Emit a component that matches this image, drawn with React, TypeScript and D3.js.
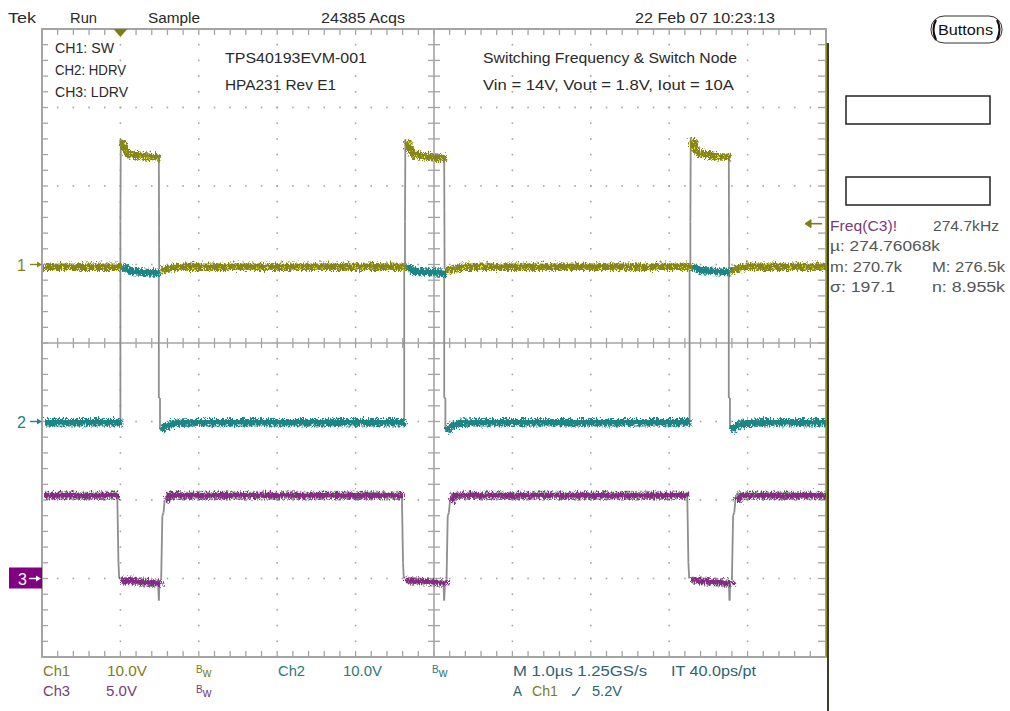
import React from "react";
import * as d3 from "d3";

const W = 1010;
const H = 711;
const FONT = "'Liberation Sans Narrow', 'Liberation Sans', Arial, sans-serif";

// traces: [time in µs from left graticule edge, volts]
const ch1Trace: [number, number][] = [
  [0, -0.1], [1.0, -0.1], [1.0, 5.5], [1.005, 16.0], [1.03, 15.0], [1.08, 14.3], [1.25, 14.0], [1.49, 13.8],
  [1.495, -0.6], [1.55, -0.4], [1.7, -0.1], [4.63, -0.1], [4.63, 5.5], [4.635, 16.0], [4.665, 14.9],
  [4.72, 14.2], [4.9, 13.9], [5.13, 13.7], [5.135, -0.6], [5.2, -0.4], [5.35, -0.1], [8.27, -0.1],
  [8.27, 5.5], [8.275, 16.2], [8.305, 15.0], [8.36, 14.4], [8.55, 14.0], [8.76, 13.9], [8.765, -0.6],
  [8.83, -0.4], [8.95, -0.1], [10.05, -0.1],
];
const ch2Trace: [number, number][] = [
  [0, 0.1], [1.0, 0.1], [1.0, 20.2], [1.005, 20.0], [1.1, 19.4], [1.49, 19.1], [1.49, 3.0], [1.505, 3.0],
  [1.505, -1.0], [1.54, -0.5], [1.65, 0.0], [1.9, 0.1], [4.62, 0.1], [4.62, 20.2], [4.625, 20.0],
  [4.72, 19.4], [5.13, 19.1], [5.13, 3.0], [5.145, 3.0], [5.145, -1.0], [5.18, -0.5], [5.29, 0.0],
  [5.5, 0.1], [8.26, 0.1], [8.26, 20.2], [8.265, 20.0], [8.36, 19.5], [8.76, 19.2], [8.76, 3.0],
  [8.775, 3.0], [8.775, -1.0], [8.81, -0.5], [8.92, 0.0], [9.2, 0.1], [10.05, 0.1],
];
const ch3Trace: [number, number][] = [
  [0, 5.4], [0.96, 5.4], [0.975, 1.0], [0.985, 0.0], [1.2, -0.1], [1.48, -0.2], [1.49, -1.4], [1.5, -0.2],
  [1.52, -0.1], [1.535, 4.0], [1.55, 4.2], [1.565, 5.0], [1.6, 5.4], [4.59, 5.4], [4.605, 1.0],
  [4.615, 0.0], [4.9, -0.1], [5.12, -0.2], [5.13, -1.4], [5.14, -0.2], [5.16, -0.1], [5.175, 4.0],
  [5.19, 4.2], [5.205, 5.0], [5.24, 5.4], [8.23, 5.4], [8.245, 1.0], [8.255, 0.0], [8.5, -0.1],
  [8.76, -0.2], [8.77, -1.4], [8.78, -0.2], [8.8, -0.1], [8.815, 4.0], [8.83, 4.2], [8.845, 5.0],
  [8.88, 5.4], [10.05, 5.4],
];

const channelLabels = ["1", "2", "3"];
const channelOffsets = [1, -1, -3]; // divisions from centre
const channelVoltsPerDiv = [10, 10, 5];
const triggerTime = 1.0;
const triggerLevel = 5.2;

const headerLabels = ["Tek", "Run", "Sample", "24385 Acqs", "22 Feb 07 10:23:13"];
const noteLines = ["CH1: SW", "CH2: HDRV", "CH3: LDRV"];
const boardLines = ["TPS40193EVM-001", "HPA231 Rev E1"];
const testLines = ["Switching Frequency & Switch Node", "Vin = 14V, Vout = 1.8V, Iout = 10A"];
const measLeft = ["µ: 274.76068k", "m: 270.7k", "σ: 197.1"];
const measRight = ["", "M: 276.5k", "n: 8.955k"];
const measName = "Freq(C3)!";
const measValue = "274.7kHz";

const X0 = 42, X1 = 826, Y0 = 29, Y1 = 657;
const x = d3.scaleLinear().domain([0, 10]).range([X0, X1]);
const yDiv = d3.scaleLinear().domain([-4, 4]).range([Y1, Y0]);

const GRID = "#a4a4a4";
const OLIVE = "#85851a";
const TEAL = "#1f8585";
const PURPLE = "#862a86";

function Txt({ x: tx, y: ty, w, fill = "#2a2a2a", size = 14, children }: any) {
  return (
    <text x={tx} y={ty} fontSize={size} fill={fill} fontFamily={FONT}
      textLength={w} lengthAdjust="spacingAndGlyphs">{children}</text>
  );
}

function Bw({ x: bx, y: by, fill }: any) {
  return (
    <text x={bx} y={by} fill={fill} fontFamily={FONT}>
      <tspan fontSize={10} dy={-3}>B</tspan>
      <tspan fontSize={12} dy={4}>w</tspan>
    </text>
  );
}

// split a trace into flat runs (coloured, noisy) and fast edges (grey)
function splitTrace(pts: [number, number][]) {
  const runs: [number, number][][] = [];
  const edges: [number, number][][] = [];
  let cur: [number, number][] = [pts[0]];
  for (let i = 1; i < pts.length; i++) {
    const a = pts[i - 1], b = pts[i];
    if (b[0] - a[0] < 0.02) {
      edges.push([a, b]);
      if (cur.length > 1) runs.push(cur);
      cur = [b];
    } else {
      cur.push(b);
    }
  }
  if (cur.length > 1) runs.push(cur);
  return { runs, edges };
}

function Trace({ data, ch, color, width, under, specks }: any) {
  const toY = (v: number) => yDiv(channelOffsets[ch] + v / channelVoltsPerDiv[ch]);
  const line = d3.line<[number, number]>().x(d => x(d[0])).y(d => toY(d[1]));
  const { runs, edges } = splitTrace(data);
  return (
    <g>
      {edges.map((e, i) => (
        <path key={"e" + i} d={line(e) || ""} stroke="#8e8e8e" strokeWidth={1.8} fill="none" />
      ))}
      {under && runs.map((r, i) => (
        <path key={"u" + i} d={line(r) || ""} stroke={under} strokeWidth={width + 2.5} fill="none" filter="url(#noise)" />
      ))}
      {runs.map((r, i) => (
        <path key={"r" + i} d={line(r) || ""} stroke={color} strokeWidth={width} fill="none" filter="url(#noise)" />
      ))}
      {specks && runs.map((r, i) => (
        <path key={"s" + i} d={line(r) || ""} stroke={specks} strokeWidth={2.4} strokeDasharray="2 6"
          fill="none" filter="url(#noise2)" />
      ))}
    </g>
  );
}

export default function App() {
  const minorX = d3.range(0, 51).map(i => i * 0.2);
  const minorY = d3.range(0, 41).map(i => -4 + i * 0.2);
  const majorX = d3.range(1, 10).filter(i => i !== 5);
  const majorY = d3.range(-3, 4).filter(j => j !== 0);
  const xc = x(5), yc = yDiv(0);
  const trigY = yDiv(channelOffsets[0] + triggerLevel / channelVoltsPerDiv[0]);
  const trigX = x(triggerTime);
  const markerY = channelOffsets.map(o => yDiv(o));

  return (
    <svg width={W} height={H} style={{ position: "absolute", left: 0, top: 0, background: "#fff" }}>
      <defs>
        <filter id="noise" filterUnits="userSpaceOnUse" x={0} y={0} width={W} height={H}>
          <feTurbulence type="turbulence" baseFrequency="0.6 0.3" numOctaves={2} seed={4} result="t" />
          <feDisplacementMap in="SourceGraphic" in2="t" scale={7} xChannelSelector="R" yChannelSelector="G" />
        </filter>
        <filter id="noise2" filterUnits="userSpaceOnUse" x={0} y={0} width={W} height={H}>
          <feTurbulence type="turbulence" baseFrequency="0.5 0.4" numOctaves={1} seed={9} result="t" />
          <feDisplacementMap in="SourceGraphic" in2="t" scale={9} xChannelSelector="R" yChannelSelector="G" />
        </filter>
        <clipPath id="plot"><rect x={X0} y={Y0} width={X1 - X0 + 3} height={Y1 - Y0} /></clipPath>
      </defs>

      {/* header */}
      <Txt x={8} y={23} w={28}>{headerLabels[0]}</Txt>
      <Txt x={70} y={23} w={27}>{headerLabels[1]}</Txt>
      <Txt x={148} y={23} w={52}>{headerLabels[2]}</Txt>
      <Txt x={321} y={23} w={84}>{headerLabels[3]}</Txt>
      <Txt x={635} y={23} w={140}>{headerLabels[4]}</Txt>

      {/* grid dots */}
      <g fill={GRID}>
        {majorX.flatMap(mx => minorY.slice(1, -1).map((my, i) => (
          <rect key={`dx${mx}-${i}`} x={x(mx) - 0.8} y={yDiv(my) - 0.8} width={1.6} height={1.6} />
        )))}
        {majorY.flatMap(my => minorX.slice(1, -1).map((mx, i) => (
          <rect key={`dy${my}-${i}`} x={x(mx) - 0.8} y={yDiv(my) - 0.8} width={1.6} height={1.6} />
        )))}
      </g>

      {/* border ticks and crosshair */}
      <g stroke={GRID} strokeWidth={1.3}>
        {minorX.slice(1, -1).map((mx, i) => (
          <g key={"tx" + i}>
            <line x1={x(mx)} x2={x(mx)} y1={Y0} y2={Y0 + 6} />
            <line x1={x(mx)} x2={x(mx)} y1={Y1 - 6} y2={Y1} />
            <line x1={x(mx)} x2={x(mx)} y1={yc - 5} y2={yc + 5} />
          </g>
        ))}
        {minorY.slice(1, -1).map((my, i) => (
          <g key={"ty" + i}>
            <line x1={X0} x2={X0 + 6} y1={yDiv(my)} y2={yDiv(my)} />
            <line x1={X1 - 8} x2={X1} y1={yDiv(my)} y2={yDiv(my)} />
            <line x1={xc - 6} x2={xc + 6} y1={yDiv(my)} y2={yDiv(my)} />
          </g>
        ))}
        <line x1={xc} x2={xc} y1={Y0} y2={Y1} strokeWidth={1.6} />
        <line x1={X0} x2={X1} y1={yc} y2={yc} strokeWidth={1.6} />
        <rect x={X0} y={Y0} width={X1 - X0} height={Y1 - Y0} fill="none" strokeWidth={2} />
      </g>

      {/* annotations */}
      {noteLines.map((s, i) => (
        <Txt key={s} x={55} y={53 + i * 22} w={[59, 71, 73][i]}>{s}</Txt>
      ))}
      <Txt x={225} y={63} w={142}>{boardLines[0]}</Txt>
      <Txt x={225} y={90} w={111}>{boardLines[1]}</Txt>
      <Txt x={483} y={63} w={254}>{testLines[0]}</Txt>
      <Txt x={483} y={90} w={251}>{testLines[1]}</Txt>

      {/* traces */}
      <g clipPath="url(#plot)">
        <Trace data={ch3Trace} ch={2} color={PURPLE} width={5.5} under="#9a9a9a" />
        <Trace data={ch2Trace} ch={1} color={TEAL} width={7.5} />
        <Trace data={ch1Trace} ch={0} color={OLIVE} width={7.5} specks="#ecec14" />
      </g>

      {/* trigger position marker */}
      <path d={`M${trigX - 7},${Y0} L${trigX + 7},${Y0} L${trigX},${Y0 + 8} Z`} fill="#7d7d10" />

      {/* right screen edge */}
      <line x1={828} x2={828} y1={43} y2={H} stroke="#3c3c28" strokeWidth={2} />
      <line x1={826.5} x2={826.5} y1={43} y2={Y1} stroke="#8a8a1a" strokeWidth={1} />

      {/* trigger level arrow */}
      <g stroke="#7d7d10" fill="#7d7d10">
        <line x1={806} x2={822} y1={trigY} y2={trigY} strokeWidth={1.6} />
        <path d={`M${805},${trigY} L${811},${trigY - 4} L${811},${trigY + 4} Z`} />
      </g>

      {/* channel ground markers */}
      {[0, 1].map(i => (
        <g key={"m" + i} fill={i === 0 ? OLIVE : TEAL} stroke={i === 0 ? OLIVE : TEAL}>
          <text x={17} y={markerY[i] + 6} fontSize={16} stroke="none" fontFamily={FONT}>{channelLabels[i]}</text>
          <line x1={30} x2={40} y1={markerY[i]} y2={markerY[i]} strokeWidth={1.4} />
          <path d={`M42,${markerY[i]} L37,${markerY[i] - 3} L37,${markerY[i] + 3} Z`} stroke="none" />
        </g>
      ))}
      <rect x={9} y={markerY[2] - 11} width={33} height={21} fill="#800080" />
      <text x={18} y={markerY[2] + 6} fontSize={16} fill="#fff" fontFamily={FONT}>{channelLabels[2]}</text>
      <line x1={29} x2={38} y1={markerY[2]} y2={markerY[2]} stroke="#fff" strokeWidth={1.4} />
      <path d={`M41,${markerY[2]} L36,${markerY[2] - 3} L36,${markerY[2] + 3} Z`} fill="#fff" />

      {/* right panel */}
      <rect x={931} y={16} width={71} height={27} rx={13} fill="none" stroke="#333" strokeWidth={1} />
      <path d="M936,20 Q931,29 936,40" fill="none" stroke="#111" strokeWidth={2.2} />
      <path d="M997,20 Q1002,29 997,40" fill="none" stroke="#111" strokeWidth={2.2} />
      <Txt x={938} y={35} w={55} fill="#111">Buttons</Txt>
      <rect x={846} y={96} width={144} height={28} fill="none" stroke="#222" strokeWidth={1.5} />
      <rect x={846} y={177} width={144} height={28} fill="none" stroke="#222" strokeWidth={1.5} />
      <Txt x={830} y={231} w={67} fill="#7a3a7a">{measName}</Txt>
      <Txt x={933} y={231} w={66} fill="#555">{measValue}</Txt>
      {measLeft.map((s, i) => (
        <Txt key={s} x={830} y={251 + i * 20.5} w={[110, 72, 65][i]} fill="#555">{s}</Txt>
      ))}
      {measRight.map((s, i) => s ? (
        <Txt key={s} x={932} y={251 + i * 20.5} w={73} fill="#555">{s}</Txt>
      ) : null)}

      {/* bottom readout */}
      <Txt x={43} y={676} w={27} fill="#7d7d18">Ch1</Txt>
      <Txt x={107} y={676} w={40} fill="#7d7d18">10.0V</Txt>
      <Bw x={196} y={676} fill="#7d7d18" />
      <Txt x={278} y={676} w={27} fill="#2a7a7a">Ch2</Txt>
      <Txt x={343} y={676} w={39} fill="#2a7a7a">10.0V</Txt>
      <Bw x={432} y={676} fill="#2a7a7a" />
      <Txt x={513} y={676} w={134} fill="#2e6470">M 1.0µs 1.25GS/s</Txt>
      <Txt x={671} y={676} w={85} fill="#2e6470">IT 40.0ps/pt</Txt>
      <Txt x={43} y={696} w={27} fill="#7a3a7a">Ch3</Txt>
      <Txt x={106} y={696} w={31} fill="#7a3a7a">5.0V</Txt>
      <Bw x={196} y={696} fill="#7a3a7a" />
      <Txt x={513} y={696} w={9} fill="#2e6470">A</Txt>
      <Txt x={532} y={696} w={26} fill="#7d7d18">Ch1</Txt>
      <path d="M572,695 L575,695 L580,687" fill="none" stroke="#2e6470" strokeWidth={1.3} />
      <Txt x={592} y={696} w={30} fill="#2e6470">5.2V</Txt>
    </svg>
  );
}
